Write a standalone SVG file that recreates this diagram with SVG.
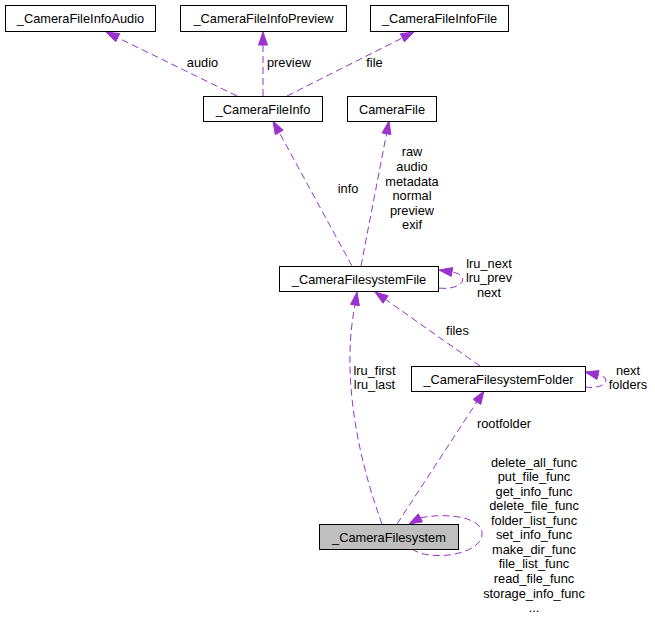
<svg xmlns="http://www.w3.org/2000/svg" width="655" height="623" viewBox="0 0 655 623">
<style>
text{font-family:"Liberation Sans",Arial,Helvetica,sans-serif;font-size:12.8px;fill:#000}
.n rect{fill:#fff;stroke:#000;stroke-width:1}
.n text{text-anchor:middle}
.e path{fill:none;stroke:#9a32cd;stroke-width:1;stroke-dasharray:7,4}
.e polygon{fill:#9a32cd;stroke:#9a32cd;stroke-width:1}
.l text{text-anchor:middle}
</style>
<rect width="655" height="623" fill="#fff"/>
<g id="connectors" class="e">
<path d="M237,96 L117.7,37.7"/><polygon points="106,32 119.7,33.6 115.7,41.7"/>
<path d="M263,96 L263,45"/><polygon points="263,32 258.5,45 267.5,45"/>
<path d="M287,96 L402.4,37.9"/><polygon points="414,32 404.4,41.9 400.4,33.8"/>
<path d="M352,266 L279.2,132.4"/><polygon points="273,121 283.2,130.3 275.3,134.6"/>
<path d="M361,266 L386.5,133.8"/><polygon points="389,121 390.9,134.6 382.1,132.9"/>
<path d="M439,288 C453,290 466,284 462,277 C460,274 457,273 452,272"/><polygon points="439,270 452.7,267.6 451.3,276.4"/>
<path d="M480,366 L385.6,299.5"/><polygon points="375,292 388.2,295.8 383,303.2"/>
<path d="M585,387 C598,389 609,384 605,378 C603,376 601,376 598,375"/><polygon points="585,372 599,370.6 597,379.4"/>
<path d="M382,524 C355,450 342,370 355,305"/><polygon points="357,292 359.4,305.7 350.6,304.3"/>
<path d="M397,524 L476.9,401.9"/><polygon points="484,391 480.7,404.4 473.1,399.4"/>
<path d="M412,549 C430,562 480,555 482,535 C484,518 450,512 420.4,517.8"/><polygon points="409,524 422.5,521.8 418.3,513.8"/>
</g>
<g id="labels" class="l">
<text x="202.5" y="66.5">audio</text>
<text x="289" y="66.5">preview</text>
<text x="374.5" y="66.5">file</text>
<text x="348" y="192.5">info</text>
<text x="412" y="156">raw</text>
<text x="412" y="171">audio</text>
<text x="412" y="185.5">metadata</text>
<text x="412" y="200">normal</text>
<text x="412" y="214.5">preview</text>
<text x="412" y="229">exif</text>
<text x="489" y="267.5">lru_next</text>
<text x="489" y="282">lru_prev</text>
<text x="489" y="296.5">next</text>
<text x="457.5" y="335">files</text>
<text x="628" y="374.5">next</text>
<text x="628" y="389">folders</text>
<text x="374.5" y="374.5">lru_first</text>
<text x="374.5" y="389">lru_last</text>
<text x="504" y="428">rootfolder</text>
<text x="534" y="466.5">delete_all_func</text>
<text x="534" y="481">put_file_func</text>
<text x="534" y="495.5">get_info_func</text>
<text x="534" y="510">delete_file_func</text>
<text x="534" y="524.6">folder_list_func</text>
<text x="534" y="539.2">set_info_func</text>
<text x="534" y="553.8">make_dir_func</text>
<text x="534" y="568.4">file_list_func</text>
<text x="534" y="583">read_file_func</text>
<text x="534" y="597.6">storage_info_func</text>
<text x="534" y="612.2">...</text>
</g>
<g id="node_CameraFileInfoAudio" class="n"><rect x="5.5" y="5.5" width="150" height="26"/><text x="80.5" y="23">_CameraFileInfoAudio</text></g>
<g id="node_CameraFileInfoPreview" class="n"><rect x="180.5" y="5.5" width="166" height="26"/><text x="263.5" y="23">_CameraFileInfoPreview</text></g>
<g id="node_CameraFileInfoFile" class="n"><rect x="370.5" y="5.5" width="138" height="26"/><text x="439.5" y="23">_CameraFileInfoFile</text></g>
<g id="node_CameraFileInfo" class="n"><rect x="203.5" y="96.5" width="119" height="25"/><text x="263" y="113.5">_CameraFileInfo</text></g>
<g id="node_CameraFile" class="n"><rect x="347.5" y="96.5" width="89" height="25"/><text x="392" y="113.5">CameraFile</text></g>
<g id="node_CameraFilesystemFile" class="n"><rect x="279.5" y="266.5" width="159" height="25"/><text x="359" y="283.5">_CameraFilesystemFile</text></g>
<g id="node_CameraFilesystemFolder" class="n"><rect x="411.5" y="366.5" width="174" height="25"/><text x="498.5" y="383.5">_CameraFilesystemFolder</text></g>
<g id="node_CameraFilesystem" class="n"><rect x="319.5" y="524.5" width="139" height="25" style="fill:#bfbfbf"/><text x="389" y="541.5">_CameraFilesystem</text></g>
</svg>
